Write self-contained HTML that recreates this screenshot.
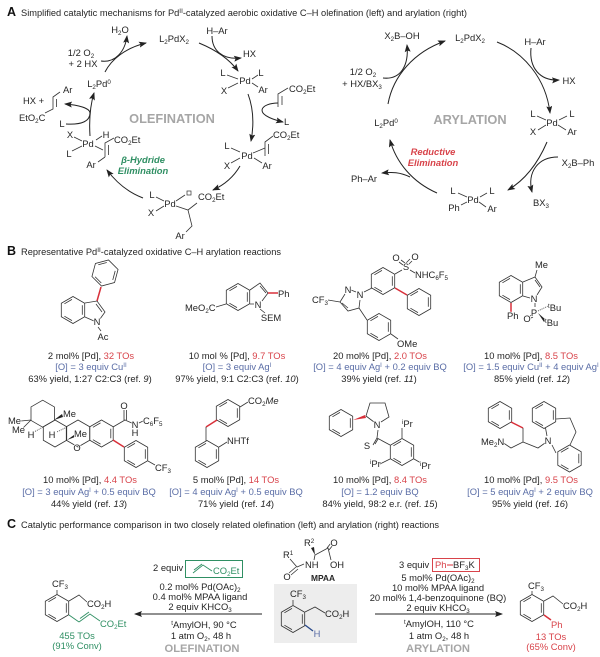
<!DOCTYPE html>
<html><head><meta charset="utf-8"><style>
html,body{margin:0;padding:0;background:#fff;width:600px;height:657px;overflow:hidden}
svg{display:block;filter:blur(.25px)}
text{font-family:"Liberation Sans",sans-serif;font-size:9.4px;fill:#252525;stroke:#fff;stroke-width:1.5px;paint-order:stroke;stroke-linejoin:round}
.m{text-anchor:middle}
.s{font-size:6.2px}
.h{font-size:9px;stroke:none}
.l{font-size:12.5px;font-weight:bold;fill:#111;stroke:none}
.g{font-size:12.8px;font-weight:bold;fill:#a6a6a6;text-anchor:middle}
.gs{font-size:11.2px;font-weight:bold;fill:#a6a6a6;text-anchor:middle}
.r{fill:#d8434a}.b{fill:#5a6da6}.gr{fill:#2f8f63}
.i{font-style:italic}
.n{stroke:none}
.bi{font-weight:bold;font-style:italic;font-size:9.4px;text-anchor:middle}
.bd{stroke:#333;stroke-width:.8;fill:none}
.ar{stroke:#222;stroke-width:1;fill:none}
.rb{stroke:#d8303a;stroke-width:1.5;fill:none}
.gb{stroke:#2f8f63;stroke-width:.9;fill:none}
</style></head><body>
<svg width="600" height="657" viewBox="0 0 600 657" xmlns="http://www.w3.org/2000/svg">
<defs>
<marker id="a" markerUnits="userSpaceOnUse" markerWidth="8" markerHeight="6" refX="7" refY="3" orient="auto"><path d="M0,0 L8,3 L0,6 L1.5,3Z" fill="#222"/></marker>
<g id="h" class="bd"><polygon points="0,-13.5 11.7,-6.75 11.7,6.75 0,13.5 -11.7,6.75 -11.7,-6.75"/><path d="M9.3,-4.7V4.7M-1,10.6L-8.6,6.2M-8.6,-6.2L-1,-10.6"/></g>
<g id="p" class="bd"><polygon points="0,-13.5 11.7,-6.75 11.7,6.75 0,13.5 -11.7,6.75 -11.7,-6.75"/></g>
</defs>

<!-- A header -->
<text x="7" y="16" class="l">A</text>
<text x="21" y="16" class="h" textLength="446" lengthAdjust="spacingAndGlyphs">Simplified catalytic mechanisms for Pd<tspan class="s" dy="-3">II</tspan><tspan dy="3">-catalyzed aerobic oxidative C–H olefination (left) and arylation (right)</tspan></text>

<!-- Olefination cycle arrows first -->
<path class="ar" marker-end="url(#a)" d="M105,72 C111,60 125,48 146,43"/>
<path class="ar" marker-end="url(#a)" d="M101,61 C115,63 125,52 127,36"/>
<path class="ar" marker-end="url(#a)" d="M199,43 C216,50 230,60 238,71"/>
<path class="ar" marker-end="url(#a)" d="M212,36 C212,50 222,60 241,58"/>
<path class="ar" marker-end="url(#a)" d="M248,94 C254,110 254,125 251,141"/>
<path class="ar" marker-end="url(#a)" d="M278,103 C262,103 250,114 283,122"/>
<path class="ar" marker-end="url(#a)" d="M240,166 C233,178 224,185 213,190"/>
<path class="ar" marker-end="url(#a)" d="M143,198 C127,192 116,182 107,170"/>
<path class="ar" marker-end="url(#a)" d="M90,136 C89,120 90,106 94,93"/>
<path class="ar" marker-end="url(#a)" d="M66,124 C82,125 90,121 90,113 C90,108 78,105 65,104"/>

<text x="174" y="42" class="m">L<tspan class="s" dy="2">2</tspan><tspan dy="-2">PdX</tspan><tspan class="s" dy="2">2</tspan></text>
<text x="217" y="34" class="m">H–Ar</text>
<text x="120" y="33" class="m">H<tspan class="s" dy="2">2</tspan><tspan dy="-2">O</tspan></text>
<text x="81" y="56" class="m">1/2 O<tspan class="s" dy="2">2</tspan></text>
<text x="83" y="67" class="m">+ 2 HX</text>
<text x="99" y="87" class="m">L<tspan class="s" dy="2">2</tspan><tspan dy="-2">Pd</tspan><tspan class="s" dy="-3">0</tspan></text>
<text x="243" y="57">HX</text>
<text x="284" y="125">L</text>
<path class="bd" d="M278,107V94L288,88M282,105V96"/>
<text x="289" y="92">CO<tspan class="s" dy="2">2</tspan><tspan dy="-2">Et</tspan></text>
<!-- complexes -->
<g>
<path class="bd" d="M227,75L238,79M258,75L252,79M228,88L238,83M258,87L252,83"/>
<text x="223" y="76" class="m">L</text><text x="261" y="76" class="m">L</text><text x="245" y="84" class="m">Pd</text><text x="224" y="94" class="m">X</text><text x="263" y="93" class="m">Ar</text>
<path class="bd" d="M231,148L240,152M231,163L240,158M254,158L262,163M253,153L265,148M265,156V142L273,136M268.500,154V144"/>
<text x="227" y="149" class="m">L</text><text x="247" y="159" class="m">Pd</text><text x="227" y="169" class="m">X</text><text x="267" y="169" class="m">Ar</text>
<text x="273" y="138">CO<tspan class="s" dy="2">2</tspan><tspan dy="-2">Et</tspan></text>
<rect x="187" y="191" width="4" height="4" fill="none" stroke="#333" stroke-width=".7"/>
<path class="bd" d="M156,197L164,201M156,211L164,206M176,201L185,195M176,206L188,210L197,203M188,210L192,226L186,232"/>
<text x="152" y="198" class="m">L</text><text x="170" y="207" class="m">Pd</text><text x="151" y="216" class="m">X</text>
<text x="198" y="200">CO<tspan class="s" dy="2">2</tspan><tspan dy="-2">Et</tspan></text>
<text x="180" y="239" class="m">Ar</text>
<path class="bd" d="M74,137L82,141M72,151L82,146M96,140L102,136M95,146L103,150M105,157V143L114,138M108.500,155V145M105,157L98,162"/>
<text x="88" y="147" class="m">Pd</text><text x="70" y="138" class="m">X</text><text x="69" y="157" class="m">L</text><text x="106" y="138" class="m">H</text>
<text x="114" y="143">CO<tspan class="s" dy="2">2</tspan><tspan dy="-2">Et</tspan></text>
<text x="91" y="168" class="m">Ar</text>
<text x="23" y="104">HX +</text>
<text x="19" y="121">EtO<tspan class="s" dy="2">2</tspan><tspan dy="-2">C</tspan></text>
<path class="bd" d="M45,113L53,109V97L60,92M56.500,107V99"/>
<text x="63" y="93">Ar</text>
<text x="62" y="127" class="m">L</text>
</g>
<text x="172" y="123" class="g">OLEFINATION</text>
<text x="143" y="163" class="bi gr">β-Hydride</text>
<text x="143" y="174" class="bi gr">Elimination</text>

<!-- Arylation cycle -->
<path class="ar" marker-end="url(#a)" d="M388,104 C393,76 414,52 445,41"/>
<path class="ar" marker-end="url(#a)" d="M383,78 C401,80 409,65 407,45"/>
<path class="ar" marker-end="url(#a)" d="M497,42 C523,52 546,78 550,113"/>
<path class="ar" marker-end="url(#a)" d="M531,48 C529,68 540,81 559,80"/>
<path class="ar" marker-end="url(#a)" d="M547,142 C538,163 525,180 508,190"/>
<path class="ar" marker-end="url(#a)" d="M558,157 C538,157 527,172 532,192"/>
<path class="ar" marker-end="url(#a)" d="M437,193 C412,182 396,162 390,140"/>
<path class="ar" marker-end="url(#a)" d="M410,177 C400,172 392,172 382,173"/>
<text x="470" y="41" class="m">L<tspan class="s" dy="2">2</tspan><tspan dy="-2">PdX</tspan><tspan class="s" dy="2">2</tspan></text>
<text x="402" y="39" class="m">X<tspan class="s" dy="2">2</tspan><tspan dy="-2">B–OH</tspan></text>
<text x="535" y="45" class="m">H–Ar</text>
<text x="569" y="84" class="m">HX</text>
<text x="363" y="75" class="m">1/2 O<tspan class="s" dy="2">2</tspan></text>
<text x="362" y="87" class="m">+ HX/BX<tspan class="s" dy="2">3</tspan></text>
<path class="bd" d="M537,116L546,120M567,116L559,120M538,130L546,125M566,130L558,125"/>
<text x="533" y="117" class="m">L</text><text x="572" y="117" class="m">L</text><text x="552" y="126" class="m">Pd</text><text x="533" y="135" class="m">X</text><text x="572" y="135" class="m">Ar</text>
<text x="578" y="166" class="m">X<tspan class="s" dy="2">2</tspan><tspan dy="-2">B–Ph</tspan></text>
<text x="541" y="206" class="m">BX<tspan class="s" dy="2">3</tspan></text>
<path class="bd" d="M458,193L467,197M487,193L480,197M461,205L467,202M486,207L479,202"/>
<text x="453" y="194" class="m">L</text><text x="492" y="194" class="m">L</text><text x="473" y="203" class="m">Pd</text><text x="454" y="211" class="m">Ph</text><text x="492" y="212" class="m">Ar</text>
<text x="364" y="182" class="m">Ph–Ar</text>
<text x="386" y="126" class="m">L<tspan class="s" dy="2">2</tspan><tspan dy="-2">Pd</tspan><tspan class="s" dy="-3">0</tspan></text>
<text x="470" y="124" class="g">ARYLATION</text>
<text x="433" y="155" class="bi r">Reductive</text>
<text x="433" y="166" class="bi r">Elimination</text>

<!-- B header -->
<text x="7" y="255" class="l">B</text>
<text x="21" y="255" class="h" textLength="260" lengthAdjust="spacingAndGlyphs">Representative Pd<tspan class="s" dy="-3">II</tspan><tspan dy="3">-catalyzed oxidative C–H arylation reactions</tspan></text>

<!-- Mol 1 -->
<use href="#h" transform="translate(105,273) rotate(15)"/>
<path class="rb" d="M101,287L97,301"/>
<use href="#h" transform="translate(73,310)"/>
<path class="bd" d="M85,303L97,301L105,312L100,319M85,317L94,321M96,304L102,312"/>
<text x="97" y="325" class="m">N</text>
<path class="bd" d="M98,327L101,331"/>
<text x="103" y="340" class="m">Ac</text>
<text x="91" y="359" class="m">2 mol% [Pd], <tspan class="r">32 TOs</tspan></text>
<text x="91" y="370" class="m b">[O] = 3 equiv Cu<tspan class="s b" dy="-3">II</tspan></text>
<text x="90" y="382" class="m">63% yield, 1:27 C2:C3 (ref. <tspan class="i">9</tspan>)</text>

<!-- Mol 2 -->
<use href="#h" transform="translate(238,297)"/>
<path class="bd" d="M250,290L260,283L268,293L262,301M250,304L254,304M260,286L266,293"/>
<path class="rb" d="M268,293H278"/>
<text x="278" y="297">Ph</text>
<text x="258" y="308" class="m">N</text>
<text x="185" y="311">MeO<tspan class="s" dy="2">2</tspan><tspan dy="-2">C</tspan></text>
<path class="bd" d="M226,304L216,307M260,309L265,313"/>
<text x="271" y="321" class="m">SEM</text>
<text x="237" y="359" class="m">10 mol % [Pd], <tspan class="r">9.7 TOs</tspan></text>
<text x="237" y="370" class="m b">[O] = 3 equiv Ag<tspan class="s b" dy="-3">I</tspan></text>
<text x="237" y="382" class="m">97% yield, 9:1 C2:C3 (ref. <tspan class="i">10</tspan>)</text>

<!-- Mol 3 -->
<use href="#h" transform="translate(383,281)"/>
<path class="bd" d="M395,274L402,270M399,262L403,265M401,260L405,263M412,261L408,265M410,259L406,263M410,270L415,273"/>
<text x="406" y="270" class="m">S</text>
<text x="396" y="261" class="m">O</text><text x="415" y="260" class="m">O</text>
<text x="415" y="278">NHC<tspan class="s" dy="2">6</tspan><tspan dy="-2">F</tspan><tspan class="s" dy="2">5</tspan></text>
<path class="rb" d="M395,288L407,295"/>
<use href="#h" transform="translate(419,302)"/>
<path class="bd" d="M351,290L356,292M345,294L340,302L348,311L359,308L360,300M342,303L348,308M364,292L372,288M328,300L340,302M359,308L367,320"/>
<text x="348" y="293" class="m">N</text><text x="360" y="298" class="m">N</text>
<text x="312" y="303">CF<tspan class="s" dy="2">3</tspan></text>
<use href="#h" transform="translate(379,327)"/>
<path class="bd" d="M391,334L398,339"/>
<text x="397" y="347">OMe</text>
<text x="380" y="359" class="m">20 mol% [Pd], <tspan class="r">2.0 TOs</tspan></text>
<text x="380" y="370" class="m b">[O] = 4 equiv Ag<tspan class="s b" dy="-3">I</tspan><tspan class="b" dy="3"> + 0.2 equiv BQ</tspan></text>
<text x="379" y="382" class="m">39% yield (ref. <tspan class="i">11</tspan>)</text>

<!-- Mol 4 -->
<use href="#h" transform="translate(511,289)"/>
<path class="bd" d="M523,282L535,277L542,287L537,295M523,296L530,298M535,280L540,287M535,277L537,270M535,303L535,307"/>
<text x="535" y="268">Me</text>
<text x="534" y="302" class="m">N</text>
<path class="rb" d="M511,303V312"/>
<text x="507" y="319">Ph</text>
<path class="bd" d="M530,316L532,315M531,318L533,317"/>
<path d="M538,313L546,320L544,322Z" fill="#222"/>
<path class="bd" stroke-dasharray="1 1" d="M538,311L548,306"/>
<text x="534" y="316" class="m">P</text>
<text x="527" y="322" class="m">O</text>
<text x="548" y="311"><tspan class="s" dy="-3">t</tspan><tspan dy="3">Bu</tspan></text>
<text x="545" y="326"><tspan class="s" dy="-3">t</tspan><tspan dy="3">Bu</tspan></text>
<text x="531" y="359" class="m">10 mol% [Pd], <tspan class="r">8.5 TOs</tspan></text>
<text x="531" y="370" class="m b">[O] = 1.5 equiv Cu<tspan class="s b" dy="-3">II</tspan><tspan class="b" dy="3"> + 4 equiv Ag</tspan><tspan class="s b" dy="-3">I</tspan></text>
<text x="532" y="382" class="m">85% yield (ref. <tspan class="i">12</tspan>)</text>

<!-- Mol 5 -->
<use href="#p" transform="translate(42.700,413.700)"/>
<use href="#p" transform="translate(55,433.500)"/>
<use href="#p" transform="translate(78,433.500)"/>
<use href="#h" transform="translate(101.500,433.500)"/>
<path d="M54,420L62,414L63,417Z" fill="#222"/>
<path class="bd" d="M31,420L21,421M31,420L23,428"/>
<path class="bd" stroke-dasharray="1 1" stroke-width="1.200" d="M43,427L34,432M67,427L57,432"/>
<path d="M67,440L74,435L75,437Z" fill="#222"/>
<text x="63" y="417">Me</text><text x="8" y="424">Me</text><text x="12" y="433">Me</text>
<text x="31" y="438" class="m">H</text><text x="52" y="438" class="m">H</text>
<text x="74" y="437">Me</text>
<text x="77" y="451" class="m">O</text>
<path class="bd" d="M113,427L125,420L134,424M124,420V410M126.500,420V410M143,421L139,423"/>
<text x="124" y="409" class="m">O</text>
<text x="135" y="428" class="m">N</text><text x="135" y="436" class="m">H</text>
<text x="143" y="424">C<tspan class="s" dy="2">6</tspan><tspan dy="-2">F</tspan><tspan class="s" dy="2">5</tspan></text>
<path class="rb" d="M113,440L124,447"/>
<use href="#h" transform="translate(136,454)"/>
<path class="bd" d="M148,461L155,465"/>
<text x="155" y="471">CF<tspan class="s" dy="2">3</tspan></text>
<text x="90" y="483" class="m">10 mol% [Pd], <tspan class="r">4.4 TOs</tspan></text>
<text x="89" y="495" class="m b">[O] = 3 equiv Ag<tspan class="s b" dy="-3">I</tspan><tspan class="b" dy="3"> + 0.5 equiv BQ</tspan></text>
<text x="89" y="507" class="m">44% yield (ref. <tspan class="i">13</tspan>)</text>

<!-- Mol 6 -->
<use href="#h" transform="translate(228,413)"/>
<path class="bd" d="M240,407L248,402"/>
<text x="248" y="404">CO<tspan class="s" dy="2">2</tspan><tspan dy="-2" class="i">Me</tspan></text>
<path class="rb" d="M217,420L206,427"/>
<path class="bd" d="M206,427V441"/>
<use href="#h" transform="translate(207,454)"/>
<path class="bd" d="M219,447L227,442"/>
<text x="227" y="444">NHTf</text>
<text x="236" y="483" class="m">5 mol% [Pd], <tspan class="r">14 TOs</tspan></text>
<text x="236" y="495" class="m b">[O] = 4 equiv Ag<tspan class="s b" dy="-3">I</tspan><tspan class="b" dy="3"> + 0.5 equiv BQ</tspan></text>
<text x="236" y="507" class="m">71% yield (ref. <tspan class="i">14</tspan>)</text>

<!-- Mol 7 -->
<use href="#h" transform="translate(341,423)"/>
<path d="M353,420L365,415L366,418Z" fill="#d8303a"/>
<path class="bd" d="M366,416L370,403H385L389,417L381,422M366,416L374,422M378,430L377,438L390,445M373,445L377,438M375,444L378,439"/>
<text x="377" y="428" class="m">N</text>
<text x="367" y="449" class="m">S</text>
<use href="#h" transform="translate(402,452)"/>
<path class="bd" d="M402,438V428M390,459L380,464M414,459L421,463"/>
<text x="402" y="427"><tspan class="s" dy="-3">i</tspan><tspan dy="3">Pr</tspan></text>
<text x="370" y="467"><tspan class="s" dy="-3">i</tspan><tspan dy="3">Pr</tspan></text>
<text x="420" y="469"><tspan class="s" dy="-3">i</tspan><tspan dy="3">Pr</tspan></text>
<text x="380" y="483" class="m">10 mol% [Pd], <tspan class="r">8.4 TOs</tspan></text>
<text x="380" y="495" class="m b">[O] = 1.2 equiv BQ</text>
<text x="380" y="507" class="m">84% yield, 98:2 e.r. (ref. <tspan class="i">15</tspan>)</text>

<!-- Mol 8 -->
<use href="#h" transform="translate(500,415)"/>
<path class="rb" d="M511,422L523,428"/>
<path class="bd" d="M523,428V442L511,448L502,442M523,442L538,448L545,443M547,436L545.500,428M556,419L570,418L576,432L570,445M552,445L556,453"/>
<use href="#h" transform="translate(544,415)"/>
<use href="#h" transform="translate(569.500,458.500)"/>
<text x="481" y="445">Me<tspan class="s" dy="2">2</tspan><tspan dy="-2">N</tspan></text>
<text x="548" y="444" class="m">N</text>
<text x="531" y="483" class="m">10 mol% [Pd], <tspan class="r">9.5 TOs</tspan></text>
<text x="530" y="495" class="m b">[O] = 5 equiv Ag<tspan class="s b" dy="-3">I</tspan><tspan class="b" dy="3"> + 2 equiv BQ</tspan></text>
<text x="530" y="507" class="m">95% yield (ref. <tspan class="i">16</tspan>)</text>

<!-- C header -->
<text x="7" y="528" class="l">C</text>
<text x="21" y="528" class="h" textLength="418" lengthAdjust="spacingAndGlyphs">Catalytic performance comparison in two closely related olefination (left) and arylation (right) reactions</text>

<!-- C left product -->
<text x="52" y="587">CF<tspan class="s" dy="2">3</tspan></text>
<path class="bd" d="M57,590V595"/>
<use href="#h" transform="translate(57,608)"/>
<path class="bd" d="M69,601L79,595L87,602"/>
<text x="87" y="607">CO<tspan class="s" dy="2">2</tspan><tspan dy="-2">H</tspan></text>
<path class="gb" stroke-width="1.4" d="M69,615L79,622"/>
<path class="gb" d="M79,622L90,614L100,621M80,618.500L89,612"/>
<text x="100" y="627" class="gr">CO<tspan class="s gr" dy="2">2</tspan><tspan dy="-2" class="gr">Et</tspan></text>
<text x="77" y="639" class="m gr">455 TOs</text>
<text x="77" y="649" class="m gr">(91% Conv)</text>

<!-- C left arrow -->
<text x="153" y="571">2 equiv</text>
<rect x="185.500" y="560.500" width="57" height="17" fill="none" stroke="#2f8f63" stroke-width="1"/>
<path class="gb" d="M193,573L203,565L212,571M194,570L202,564"/>
<text x="213" y="574" class="gr n">CO<tspan class="s gr" dy="2">2</tspan><tspan dy="-2" class="gr">Et</tspan></text>
<text x="200" y="590" class="m">0.2 mol% Pd(OAc)<tspan class="s" dy="2">2</tspan></text>
<text x="200" y="600" class="m">0.4 mol% MPAA ligand</text>
<text x="200" y="610" class="m">2 equiv KHCO<tspan class="s" dy="2">3</tspan></text>
<path class="ar" marker-end="url(#a)" d="M262,614H135"/>
<text x="204" y="628" class="m"><tspan class="s" dy="-3">t</tspan><tspan dy="3">AmylOH, 90 °C</tspan></text>
<text x="201" y="639" class="m">1 atm O<tspan class="s" dy="2">2</tspan><tspan dy="-2">, 48 h</tspan></text>
<text x="202" y="652" class="gs">OLEFINATION</text>

<!-- MPAA -->
<path class="bd" d="M290,559L297,567L304,564M296,567L289,573M298,569L291,575"/>
<path d="M315,555L311,548L314,547Z" fill="#222"/>
<path class="bd" d="M314,560L315,555L328,548L331,560M327,548L331,543M329,550L333,545"/>
<text x="283" y="558">R<tspan class="s" dy="-3">1</tspan></text>
<text x="287" y="580" class="m">O</text>
<text x="305" y="568">NH</text>
<text x="304" y="546">R<tspan class="s" dy="-3">2</tspan></text>
<text x="334" y="546" class="m">O</text>
<text x="337" y="568" class="m">OH</text>
<text x="323" y="581" class="m n" style="font-weight:bold;font-size:8.400px">MPAA</text>
<rect x="274" y="584" width="83" height="59" fill="#ededed"/>
<text x="290" y="597" class="n">CF<tspan class="s" dy="2">3</tspan></text>
<path class="bd" d="M293,600V605"/>
<use href="#h" transform="translate(293,619)"/>
<path class="bd" d="M305,612L315,607L325,613"/>
<text x="325" y="617" class="n">CO<tspan class="s" dy="2">2</tspan><tspan dy="-2">H</tspan></text>
<path d="M305,625L313,631" stroke="#2a4a8a" stroke-width="1.400" fill="none"/>
<text x="317" y="637" class="m b n">H</text>

<!-- C right arrow -->
<text x="399" y="568">3 equiv</text>
<rect x="432.500" y="558.500" width="47" height="13" fill="none" stroke="#d8434a" stroke-width="1"/>
<text x="435" y="568" class="r n">Ph</text>
<path d="M447,565H453" stroke="#d8303a" stroke-width="1" fill="none"/>
<text x="453" y="568" class="n">BF<tspan class="s" dy="2">3</tspan><tspan dy="-2">K</tspan></text>
<text x="438" y="581" class="m">5 mol% Pd(OAc)<tspan class="s" dy="2">2</tspan></text>
<text x="438" y="591" class="m">10 mol% MPAA ligand</text>
<text x="438" y="601" class="m">20 mol% 1,4-benzoquinone (BQ)</text>
<text x="438" y="611" class="m">2 equiv KHCO<tspan class="s" dy="2">3</tspan></text>
<path class="ar" marker-end="url(#a)" d="M375,614H502"/>
<text x="439" y="627" class="m"><tspan class="s" dy="-3">t</tspan><tspan dy="3">AmylOH, 110 °C</tspan></text>
<text x="439" y="639" class="m">1 atm O<tspan class="s" dy="2">2</tspan><tspan dy="-2">, 48 h</tspan></text>
<text x="438" y="652" class="gs">ARYLATION</text>

<!-- C right product -->
<text x="528" y="589">CF<tspan class="s" dy="2">3</tspan></text>
<path class="bd" d="M532,591V595"/>
<use href="#h" transform="translate(532,608)"/>
<path class="bd" d="M544,601L553,596L563,604"/>
<text x="563" y="609">CO<tspan class="s" dy="2">2</tspan><tspan dy="-2">H</tspan></text>
<path class="rb" d="M544,615L551,620"/>
<text x="551" y="628" class="r">Ph</text>
<text x="551" y="640" class="m r">13 TOs</text>
<text x="551" y="650" class="m r">(65% Conv)</text>
</svg>
</body></html>
